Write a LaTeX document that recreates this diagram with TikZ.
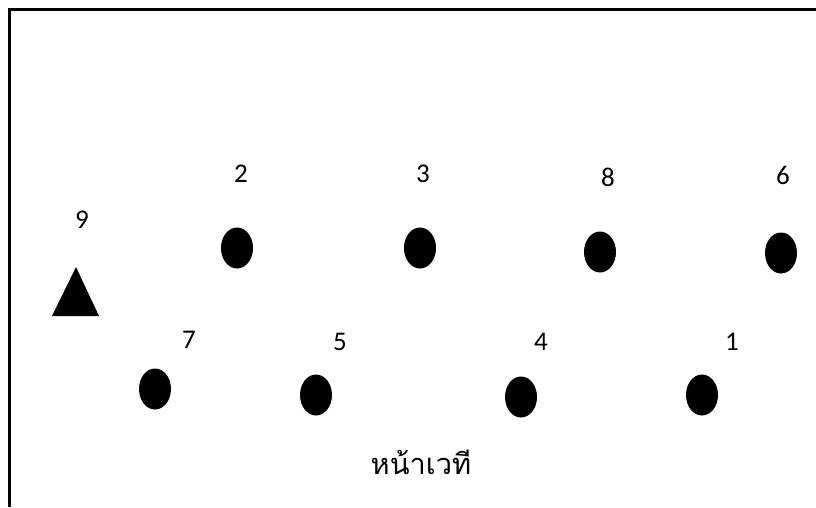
\documentclass[tikz,border=0pt]{standalone}
\usepackage{fontspec}
\setmainfont{Carlito}
\newfontfamily\thaifont[Script=Thai]{Loma}
\usetikzlibrary{shapes.geometric}
\tikzset{
  seat/.style={ellipse, fill=black, minimum width=32pt, minimum height=41pt, inner sep=0pt},
  seatnum/.style={font=\fontsize{27}{32}\selectfont, inner sep=0pt},
  frameline/.style={line width=3pt}
}
\begin{document}
\begin{tikzpicture}[x=1pt,y=-1pt]
  \useasboundingbox (0,0) rectangle (816,507);
  % frame
  \draw[frameline] (9.5,507) -- (9.5,9.5) -- (816,9.5);

  % back row
  \node[seat] (s2) at (237,248) {};
  \node[seat] (s3) at (420,248) {};
  \node[seat] (s8) at (600,252) {};
  \node[seat] (s6) at (781,253) {};
  \node[seatnum] (n2) at (241,174) {2};
  \node[seatnum] (n3) at (423,174) {3};
  \node[seatnum] (n8) at (608,177) {8};
  \node[seatnum] (n6) at (783,175) {6};

  % front row
  \node[seat] (s7) at (155,389) {};
  \node[seat] (s5) at (316,395) {};
  \node[seat] (s4) at (521,397) {};
  \node[seat] (s1) at (702,395) {};
  \node[seatnum] (n7) at (189,340) {7};
  \node[seatnum] (n5) at (340,342) {5};
  \node[seatnum] (n4) at (541,342) {4};
  \node[seatnum] (n1) at (732,342) {1};

  % 9
  \fill (76,267) -- (99,316) -- (52,316) -- cycle;
  \node[seatnum] (n9) at (82,220) {9};

  \node[font=\thaifont\fontsize{29}{33}\selectfont, inner sep=0pt] (stage) at (421,462) {หน้าเวที};
\end{tikzpicture}
\end{document}
